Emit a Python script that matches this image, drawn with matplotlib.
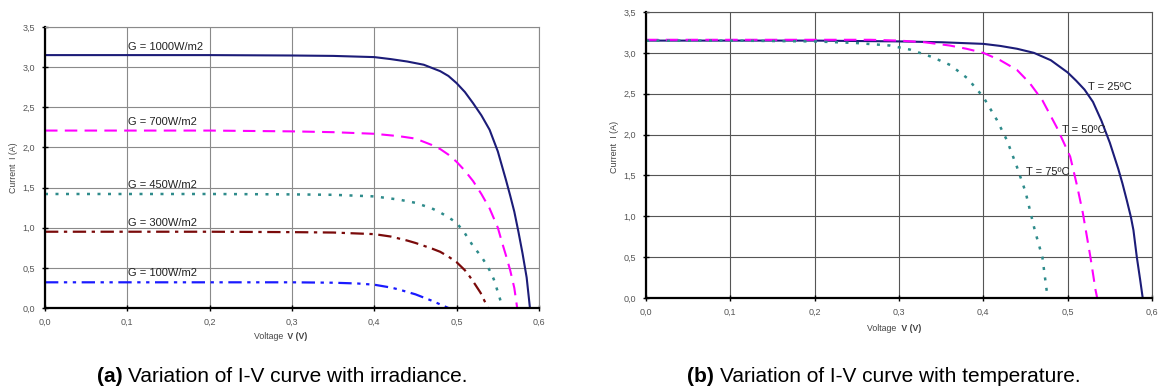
import numpy as np
import matplotlib.pyplot as plt

plt.rcParams['font.family'] = ['Liberation Sans', 'DejaVu Sans']

# (a) irradiance curves, voltage V / current A
v_1000 = [0.0, 0.1, 0.2, 0.3, 0.35, 0.40, 0.42, 0.44, 0.46, 0.48, 0.49, 0.50, 0.51, 0.52, 0.53, 0.54, 0.55, 0.56, 0.565, 0.57, 0.575, 0.58, 0.585, 0.589]
i_1000 = [3.15, 3.15, 3.15, 3.145, 3.14, 3.125, 3.10, 3.07, 3.03, 2.95, 2.89, 2.80, 2.69, 2.55, 2.40, 2.22, 1.95, 1.59, 1.40, 1.20, 0.95, 0.68, 0.38, 0.0]
v_700 = [0.0, 0.1, 0.2, 0.3, 0.35, 0.40, 0.43, 0.45, 0.47, 0.48, 0.49, 0.50, 0.51, 0.52, 0.53, 0.54, 0.55, 0.555, 0.56, 0.565, 0.57, 0.5735]
i_700 = [2.21, 2.21, 2.21, 2.20, 2.19, 2.17, 2.14, 2.11, 2.03, 1.98, 1.91, 1.82, 1.71, 1.58, 1.42, 1.24, 1.0, 0.82, 0.65, 0.47, 0.25, 0.0]
v_450 = [0.0, 0.1, 0.2, 0.3, 0.35, 0.40, 0.43, 0.45, 0.47, 0.48, 0.49, 0.50, 0.51, 0.52, 0.53, 0.535, 0.54, 0.545, 0.55, 0.556]
i_450 = [1.42, 1.42, 1.42, 1.415, 1.41, 1.39, 1.35, 1.31, 1.24, 1.19, 1.13, 1.06, 0.93, 0.77, 0.64, 0.56, 0.47, 0.36, 0.20, 0.0]
v_300 = [0.0, 0.1, 0.2, 0.3, 0.35, 0.40, 0.42, 0.44, 0.45, 0.47, 0.48, 0.49, 0.50, 0.51, 0.516, 0.522, 0.529, 0.538]
i_300 = [0.95, 0.95, 0.95, 0.945, 0.94, 0.92, 0.89, 0.84, 0.81, 0.74, 0.70, 0.64, 0.57, 0.47, 0.39, 0.30, 0.19, 0.0]
v_100 = [0.0, 0.1, 0.2, 0.3, 0.35, 0.38, 0.40, 0.42, 0.43, 0.45, 0.47, 0.49]
i_100 = [0.32, 0.32, 0.32, 0.32, 0.315, 0.305, 0.29, 0.255, 0.23, 0.17, 0.09, 0.0]
g_labels = ['G = 1000W/m2', 'G = 700W/m2', 'G = 450W/m2', 'G = 300W/m2', 'G = 100W/m2']
g_label_y = [3.25, 2.32, 1.53, 1.06, 0.43]

# (b) temperature curves
v_25 = [0.0, 0.1, 0.2, 0.3, 0.35, 0.40, 0.42, 0.44, 0.46, 0.48, 0.50, 0.51, 0.52, 0.53, 0.54, 0.55, 0.56, 0.565, 0.57, 0.575, 0.578, 0.582, 0.586, 0.589]
i_25 = [3.15, 3.15, 3.15, 3.14, 3.13, 3.11, 3.085, 3.05, 3.00, 2.91, 2.76, 2.66, 2.55, 2.40, 2.17, 1.90, 1.58, 1.40, 1.20, 0.99, 0.83, 0.50, 0.22, 0.0]
v_50 = [0.0, 0.1, 0.2, 0.266, 0.30, 0.33, 0.36, 0.38, 0.40, 0.42, 0.44, 0.455, 0.47, 0.487, 0.503, 0.511, 0.518, 0.527, 0.533, 0.535]
i_50 = [3.16, 3.16, 3.16, 3.16, 3.15, 3.13, 3.09, 3.05, 3.00, 2.91, 2.79, 2.63, 2.42, 2.09, 1.73, 1.38, 1.04, 0.50, 0.10, 0.0]
v_75 = [0.0, 0.1, 0.2, 0.25, 0.289, 0.313, 0.339, 0.361, 0.381, 0.40, 0.416, 0.428, 0.44, 0.45, 0.461, 0.47, 0.475, 0.477]
i_75 = [3.15, 3.15, 3.14, 3.12, 3.09, 3.04, 2.95, 2.85, 2.69, 2.46, 2.18, 1.93, 1.60, 1.30, 0.83, 0.50, 0.10, 0.0]
t_labels = ['T = 25ºC', 'T = 50ºC', 'T = 75ºC']
t_label_xy = [(0.524, 2.58), (0.493, 2.06), (0.45, 1.54)]

x_ticks = [0.0, 0.1, 0.2, 0.3, 0.4, 0.5, 0.6]
y_ticks = [0.0, 0.5, 1.0, 1.5, 2.0, 2.5, 3.0, 3.5]


def style_axes(ax, grid_color):
    ax.set_xlim(0, 0.6)
    ax.set_ylim(0, 3.5)
    ax.set_xticks(x_ticks)
    ax.set_yticks(y_ticks)
    ax.set_xticklabels([f'{t:.1f}'.replace('.', ',') for t in x_ticks])
    ax.set_yticklabels([f'{t:.1f}'.replace('.', ',') for t in y_ticks])
    ax.tick_params(labelsize=6.5, labelcolor='#555555', direction='inout', length=4, width=1, pad=5)
    ax.grid(True, color=grid_color, lw=0.8)
    ax.set_axisbelow(True)
    for s in ['top', 'right']:
        ax.spines[s].set_color(grid_color)
        ax.spines[s].set_linewidth(0.8)
    for s in ['left', 'bottom']:
        ax.spines[s].set_color('black')
        ax.spines[s].set_linewidth(1.6)


fig = plt.figure(figsize=(11.59, 3.89), dpi=100)
ax1 = fig.add_axes([45 / 1159, 1 - 308 / 389, 494 / 1159, 281 / 389])
ax2 = fig.add_axes([646 / 1159, 1 - 298 / 389, 506 / 1159, 286 / 389])

style_axes(ax1, '#8a8a8a')
ax1.plot(v_1000, i_1000, color='#1c1c78', lw=1.5)
ax1.plot(v_700, i_700, color='#ff00ff', lw=1.5, dashes=(6, 3.5))
ax1.plot(v_450, i_450, color='#2e8b8b', lw=1.8, dashes=(1.2, 3))
ax1.plot(v_300, i_300, color='#7a0a0a', lw=1.6, dashes=(6, 2.5, 1.5, 2.5))
ax1.plot(v_100, i_100, color='#1a1aff', lw=1.6, dashes=(6, 2.5, 1.5, 2.5, 1.5, 2.5))
for lab, y in zip(g_labels, g_label_y):
    ax1.text(0.101, y, lab, fontsize=8, color='#222222', va='center', ha='left')
ax1.text(-0.0377, 1.75, 'Current  I (A)', rotation=90, fontsize=6.3, color='#444444',
         ha='center', va='center')
ax1.text(0.292, -0.35, 'Voltage ', fontsize=6.3, color='#444444', ha='right', va='center')
ax1.text(0.292, -0.35, ' V (V)', fontsize=6.3, color='#444444', ha='left', va='center', fontweight='bold')

style_axes(ax2, '#555555')
ax2.plot(v_25, i_25, color='#1c1c78', lw=1.5)
ax2.plot(v_50, i_50, color='#ff00ff', lw=1.5, dashes=(6, 3.5))
ax2.plot(v_75, i_75, color='#2e8b8b', lw=1.8, dashes=(1.2, 3))
for lab, (x, y) in zip(t_labels, t_label_xy):
    ax2.text(x, y, lab, fontsize=8, color='#222222', va='center', ha='left')
ax2.text(-0.0368, 1.85, 'Current  I (A)', rotation=90, fontsize=6.5, color='#444444',
         ha='center', va='center')
ax2.text(0.3, -0.37, 'Voltage ', fontsize=6.3, color='#444444', ha='right', va='center')
ax2.text(0.3, -0.37, ' V (V)', fontsize=6.3, color='#444444', ha='left', va='center', fontweight='bold')

fig.text(123 / 1159, 1 - 377 / 389, '(a)', fontsize=15, fontweight='bold', ha='right', va='center')
fig.text(128 / 1159, 1 - 377 / 389, 'Variation of I-V curve with irradiance.', fontsize=15, ha='left', va='center')
fig.text(714 / 1159, 1 - 377 / 389, '(b)', fontsize=15, fontweight='bold', ha='right', va='center')
fig.text(720 / 1159, 1 - 377 / 389, 'Variation of I-V curve with temperature.', fontsize=15, ha='left', va='center')

fig.savefig('out.png', dpi=100)
